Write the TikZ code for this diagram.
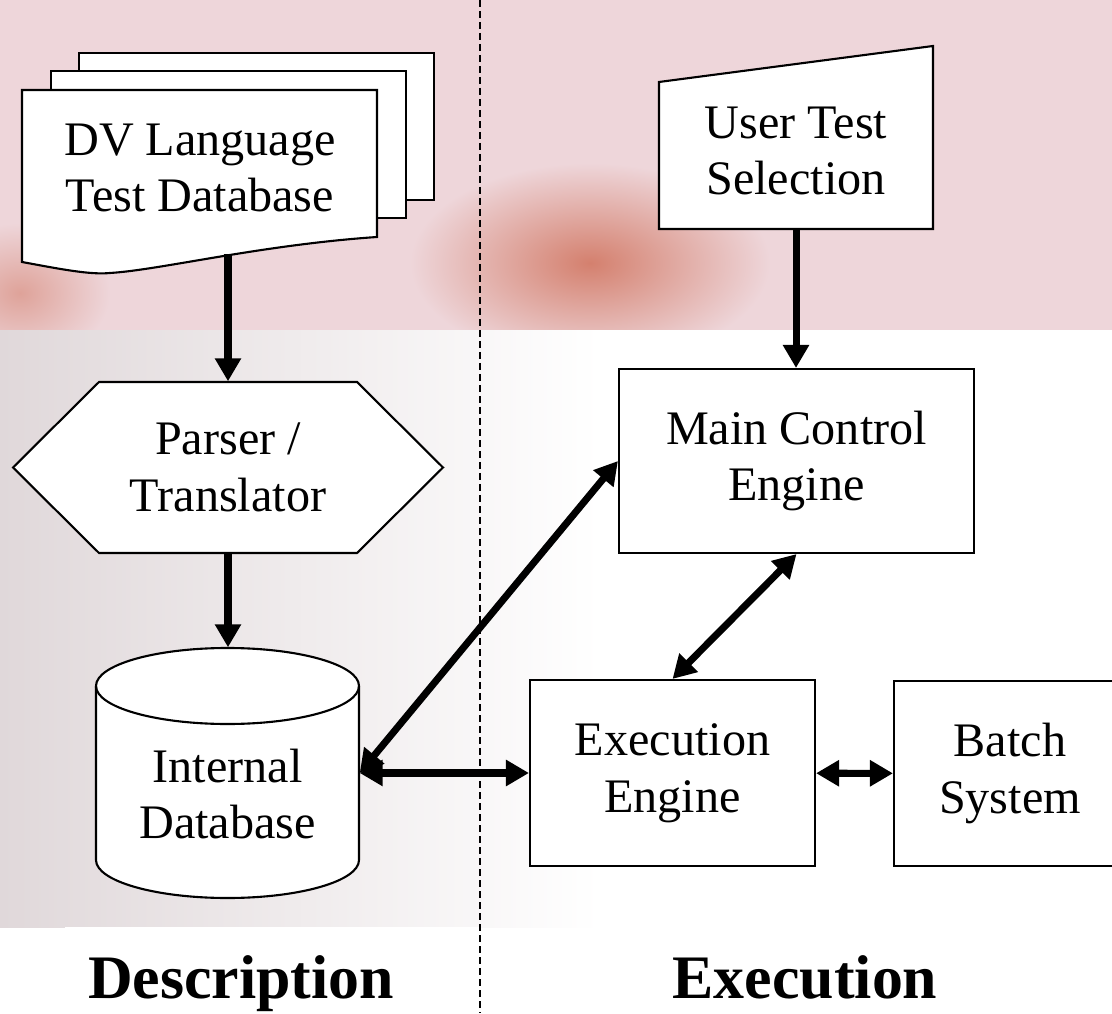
\documentclass[tikz,border=0pt]{standalone}
\usepackage{fontspec}
\setmainfont{Liberation Serif}
\usepackage{tikz}
\usetikzlibrary{arrows.meta,positioning,calc}
\definecolor{bgpink}{RGB}{238,214,218}
\definecolor{bggrey}{RGB}{224,216,218}
\definecolor{bgred}{RGB}{212,128,110}

\begin{document}
\begin{tikzpicture}[every node/.style={font=\fontsize{13.7}{16.2}\selectfont, align=center, inner sep=0pt},
    shapeline/.style={draw=black, fill=white, line width=0.6pt},
    box/.style={shapeline, minimum width=#1},
    link/.style={line width=2pt, -{Triangle[length=0.23cm,width=0.25cm]}},
    dlink/.style={line width=2pt, {Triangle[length=0.23cm,width=0.25cm]}-{Triangle[length=0.23cm,width=0.25cm]}},
    divider/.style={line width=0.6pt, dash pattern=on 0.07cm off 0.04cm},
    title/.style={font=\bfseries\fontsize{17.6}{20}\selectfont, anchor=base}]

    \useasboundingbox (0,0) rectangle (11.12,10.13);

    % background
    \fill[white] (0,0) rectangle (11.12,10.13);
    \shade[left color=bggrey, right color=white] (0,0.86) rectangle (6.0,6.83);
    \begin{scope}
        \clip (0,6.83) rectangle (11.12,10.13);
        \fill[bgpink] (0,6.83) rectangle (11.12,10.13);
        \shade[inner color=bgred, outer color=bgpink] (5.9,7.5) ellipse (1.8 and 1.0);
        \shade[inner color=bgred!60!bgpink, outer color=bgpink] (0.2,7.2) ellipse (0.9 and 0.7);
    \end{scope}
    \fill[white] (0.65,0) rectangle (4.8,0.86);

    \draw[divider] (4.80,10.13) -- (4.80,0);

    % description side
    \foreach \dx/\dy in {0.57/0.37, 0.29/0.19} {
        \draw[shapeline] (0.22+\dx,7.76+\dy) rectangle (3.77+\dx,9.23+\dy);
    }
    \draw[shapeline] (0.22,9.23) -- (0.22,7.51)
        .. controls (0.6,7.44) and (0.9,7.38) .. (1.10,7.40)
        .. controls (1.6,7.43) and (2.6,7.68) .. (3.77,7.76) -- (3.77,9.23) -- cycle;
    \node[minimum width=3.55cm, minimum height=1.70cm] (dvdb) at (2.0,8.45) {DV Language\\Test Database};

    \draw[shapeline] (0.13,5.455) -- (0.99,6.31) -- (3.57,6.31) -- (4.43,5.455)
        -- (3.57,4.60) -- (0.99,4.60) -- cycle;
    \node[minimum width=4.30cm, minimum height=1.71cm] (parser) at (2.28,5.455) {Parser /\\Translator};

    \draw[shapeline] (0.96,3.27) -- (0.96,1.53) arc[start angle=180, end angle=360, x radius=1.315, y radius=0.38]
        -- (3.59,3.27) arc[start angle=0, end angle=180, x radius=1.315, y radius=0.38] -- cycle;
    \draw[line width=0.6pt] (0.96,3.27) arc[start angle=180, end angle=360, x radius=1.315, y radius=0.38];
    \node[minimum width=2.63cm, minimum height=2.5cm] (db) at (2.275,2.40) {};
    \node (dblabel) at (2.275,2.19) {Internal\\Database};

    % execution side
    \draw[shapeline] (6.59,7.84) -- (9.33,7.84) -- (9.33,9.67) -- (6.59,9.31) -- cycle;
    \node[minimum width=2.74cm, minimum height=1.56cm] (usel) at (7.96,8.62) {User Test\\Selection};

    \node[box=3.55cm, minimum height=1.84cm] (main) at (7.965,5.52) {Main Control\\Engine};
    \node[box=2.85cm, minimum height=1.86cm] (exec) at (6.725,2.40) {Execution\\Engine};
    \node[box=2.32cm, minimum height=1.85cm] (batch) at (10.10,2.395) {Batch\\System};

    \draw[link] (dvdb.south -| parser.north) -- (parser.north);
    \draw[link] (parser.south) -- (parser.south |- db.north);
    \draw[link] (usel.south) -- (usel.south |- main.north);
    \draw[dlink] (db.east) -- (main.west);
    \draw[dlink] (main.south) -- (exec.north);
    \draw[dlink] (db.east) -- (exec.west);
    \draw[dlink] (exec) -- (batch);

    \node[title] (desc) at (2.41,0.15) {Description};
    \node[title] (exectitle) at (8.05,0.15) {Execution};
\end{tikzpicture}
\end{document}
